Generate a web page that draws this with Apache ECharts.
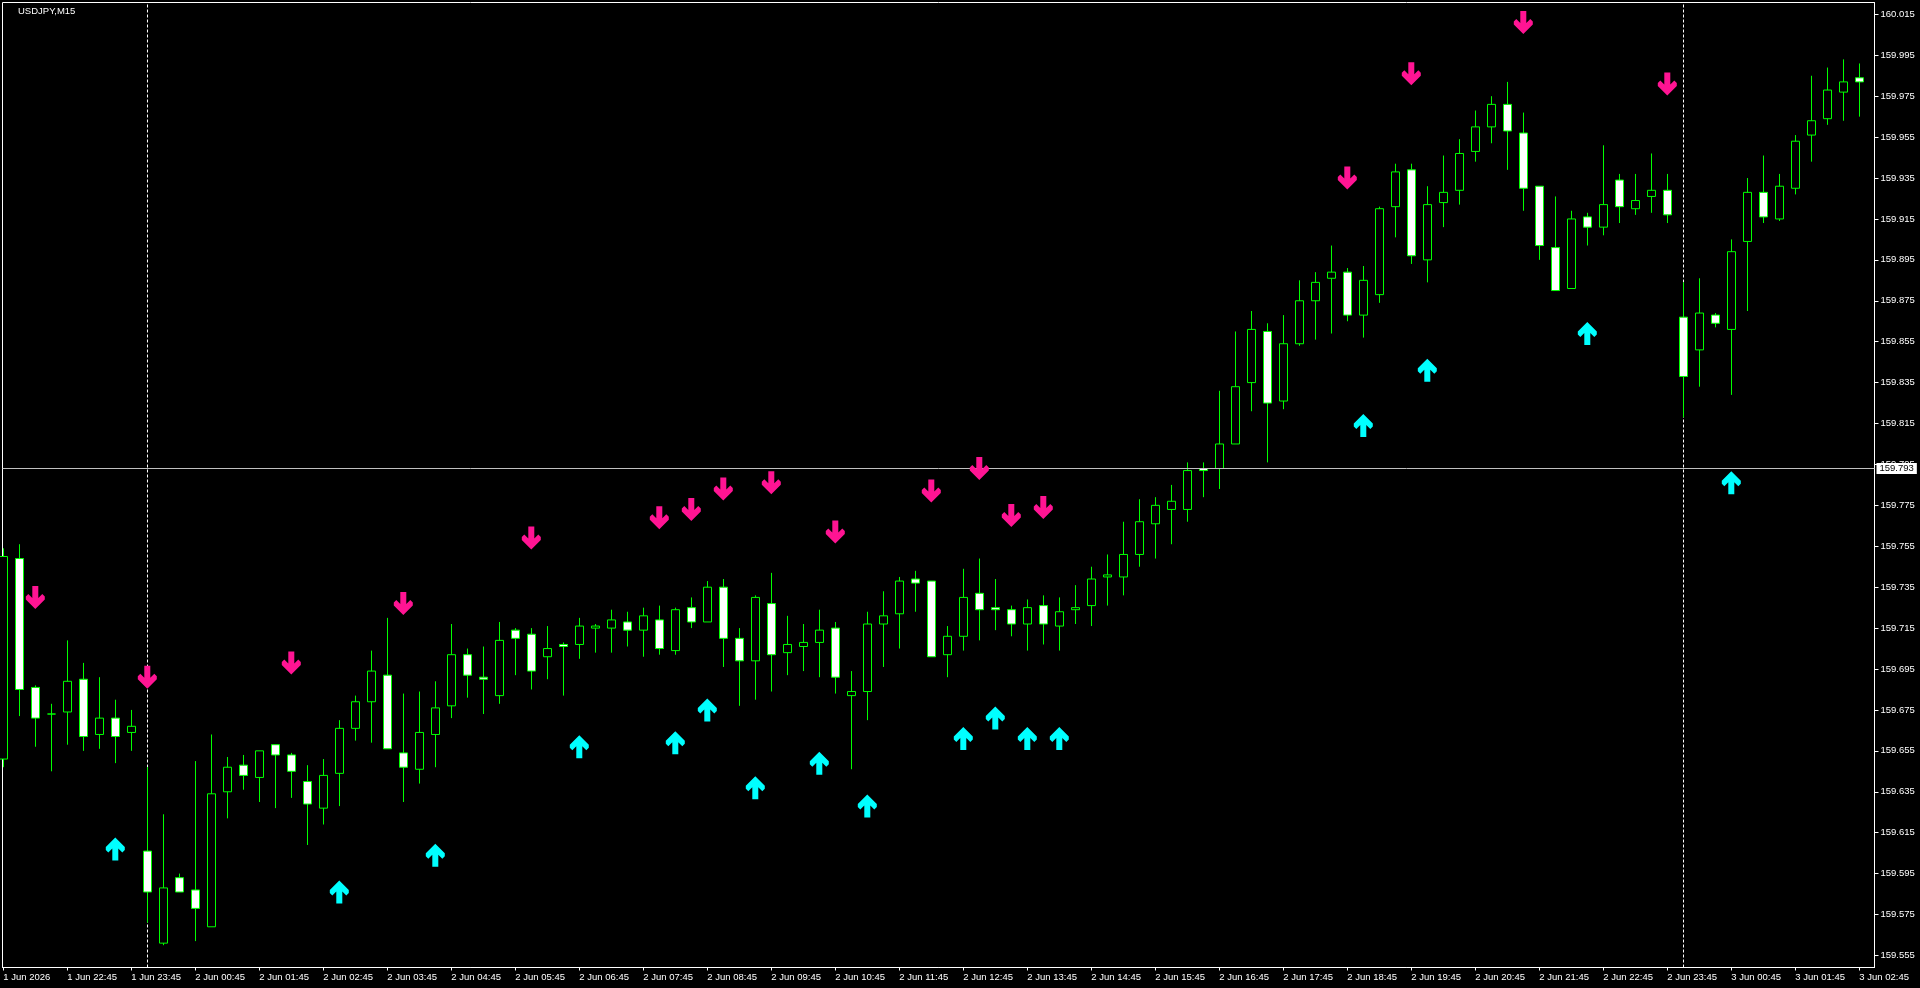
<!DOCTYPE html>
<html>
<head>
<meta charset="utf-8">
<title>USDJPY,M15</title>
<script src="https://cdn.jsdelivr.net/npm/echarts@6.0.0/dist/echarts.min.js"></script>
<style>
  html, body { margin: 0; padding: 0; background: #000; }
  #main { width: 1920px; height: 988px; }
</style>
</head>
<body>
<div id="main"></div>
<script>
// USDJPY M15 bars, index 0 = 1 Jun 21:45
const opens = [
  159.651, 159.749, 159.686, 159.673, 159.674, 159.690, 159.663, 159.671, 159.664, 159.606,
  159.561, 159.593, 159.587, 159.569, 159.635, 159.648, 159.642, 159.658, 159.653, 159.640,
  159.627, 159.644, 159.666, 159.679, 159.692, 159.654, 159.646, 159.663, 159.677, 159.702,
  159.691, 159.682, 159.714, 159.712, 159.701, 159.707, 159.707, 159.715, 159.715, 159.718,
  159.714, 159.719, 159.704, 159.725, 159.718, 159.735, 159.710, 159.699, 159.727, 159.703,
  159.706, 159.708, 159.715, 159.682, 159.684, 159.717, 159.722, 159.739, 159.738, 159.702,
  159.711, 159.732, 159.725, 159.724, 159.717, 159.726, 159.716, 159.724, 159.726, 159.740,
  159.740, 159.751, 159.766, 159.773, 159.773, 159.793, 159.793, 159.805, 159.835, 159.860,
  159.826, 159.854, 159.875, 159.886, 159.889, 159.868, 159.878, 159.921, 159.939, 159.895,
  159.923, 159.929, 159.948, 159.960, 159.971, 159.957, 159.931, 159.901, 159.881, 159.916,
  159.911, 159.934, 159.920, 159.926, 159.929, 159.867, 159.851, 159.868, 159.861, 159.904,
  159.928, 159.915, 159.930, 159.956, 159.964, 159.977, 159.984
]
const closes = [
  159.750, 159.685, 159.671, 159.673, 159.689, 159.662, 159.671, 159.662, 159.667, 159.586,
  159.588, 159.586, 159.578, 159.634, 159.647, 159.643, 159.655, 159.653, 159.645, 159.629,
  159.643, 159.666, 159.679, 159.694, 159.656, 159.647, 159.664, 159.676, 159.702, 159.692,
  159.690, 159.709, 159.710, 159.694, 159.705, 159.706, 159.716, 159.716, 159.719, 159.714,
  159.721, 159.705, 159.724, 159.718, 159.735, 159.710, 159.699, 159.730, 159.702, 159.707,
  159.708, 159.714, 159.691, 159.684, 159.717, 159.721, 159.738, 159.737, 159.701, 159.711,
  159.730, 159.724, 159.724, 159.717, 159.725, 159.717, 159.723, 159.725, 159.739, 159.741,
  159.751, 159.767, 159.775, 159.777, 159.792, 159.792, 159.805, 159.833, 159.861, 159.825,
  159.854, 159.875, 159.884, 159.889, 159.868, 159.885, 159.920, 159.938, 159.897, 159.922,
  159.928, 159.947, 159.960, 159.971, 159.958, 159.930, 159.902, 159.880, 159.915, 159.911,
  159.922, 159.921, 159.924, 159.929, 159.917, 159.838, 159.869, 159.864, 159.899, 159.928,
  159.916, 159.931, 159.953, 159.963, 159.978, 159.982, 159.982
]
const lows = [
  159.647, 159.672, 159.657, 159.645, 159.658, 159.655, 159.656, 159.649, 159.655, 159.571,
  159.560, 159.586, 159.562, 159.569, 159.622, 159.636, 159.630, 159.627, 159.632, 159.609,
  159.619, 159.628, 159.660, 159.659, 159.656, 159.630, 159.639, 159.647, 159.671, 159.681,
  159.673, 159.678, 159.692, 159.685, 159.690, 159.682, 159.700, 159.703, 159.703, 159.706,
  159.701, 159.702, 159.702, 159.715, 159.718, 159.696, 159.677, 159.680, 159.684, 159.692,
  159.694, 159.691, 159.683, 159.646, 159.670, 159.696, 159.705, 159.723, 159.701, 159.691,
  159.704, 159.709, 159.714, 159.711, 159.704, 159.707, 159.704, 159.717, 159.716, 159.726,
  159.731, 159.745, 159.749, 159.756, 159.767, 159.779, 159.783, 159.805, 159.821, 159.796,
  159.822, 159.853, 159.856, 159.859, 159.865, 159.857, 159.874, 159.906, 159.893, 159.884,
  159.911, 159.922, 159.943, 159.952, 159.939, 159.919, 159.895, 159.880, 159.881, 159.902,
  159.907, 159.913, 159.917, 159.918, 159.913, 159.818, 159.833, 159.862, 159.829, 159.870,
  159.913, 159.914, 159.927, 159.943, 159.961, 159.963, 159.965
]
const highs = [
  159.754, 159.756, 159.687, 159.678, 159.709, 159.698, 159.691, 159.680, 159.675, 159.647,
  159.624, 159.595, 159.650, 159.663, 159.652, 159.653, 159.655, 159.658, 159.654, 159.648,
  159.651, 159.670, 159.682, 159.704, 159.720, 159.683, 159.684, 159.689, 159.717, 159.705,
  159.706, 159.718, 159.715, 159.715, 159.716, 159.708, 159.720, 159.717, 159.724, 159.723,
  159.725, 159.726, 159.725, 159.730, 159.738, 159.739, 159.715, 159.731, 159.742, 159.721,
  159.717, 159.724, 159.718, 159.694, 159.723, 159.733, 159.740, 159.743, 159.738, 159.716,
  159.744, 159.749, 159.739, 159.726, 159.729, 159.731, 159.730, 159.736, 159.745, 159.751,
  159.767, 159.778, 159.779, 159.785, 159.796, 159.796, 159.831, 159.860, 159.870, 159.864,
  159.868, 159.885, 159.889, 159.902, 159.891, 159.892, 159.921, 159.942, 159.942, 159.931,
  159.946, 159.954, 159.968, 159.975, 159.982, 159.967, 159.931, 159.926, 159.919, 159.918,
  159.951, 159.937, 159.937, 159.947, 159.937, 159.884, 159.886, 159.869, 159.905, 159.935,
  159.946, 159.937, 159.956, 159.985, 159.989, 159.993, 159.991
]

// arrow signals: bar index + price where the arrow sits
const sellIdx = [2, 9, 18, 25, 33, 41, 43, 45, 48, 52, 58, 61, 63, 65, 84, 88, 95, 104]
const sellPrice = [159.730, 159.691, 159.698, 159.727, 159.759, 159.769, 159.773, 159.783, 159.786,
  159.762, 159.782, 159.793, 159.770, 159.774, 159.935, 159.986, 160.011, 159.981]
const buyIdx = [7, 21, 27, 36, 42, 44, 47, 51, 54, 60, 62, 64, 66, 85, 89, 99, 108]
const buyPrice = [159.607, 159.586, 159.604, 159.657, 159.659, 159.675, 159.637, 159.649, 159.628,
  159.661, 159.671, 159.661, 159.661, 159.814, 159.841, 159.859, 159.786]

const daySepIdx = [9, 105]
const bidPrice = 159.793

const timeLabels = [
  '1 Jun 2026', '1 Jun 22:45', '1 Jun 23:45',
  '2 Jun 00:45', '2 Jun 01:45', '2 Jun 02:45', '2 Jun 03:45', '2 Jun 04:45', '2 Jun 05:45',
  '2 Jun 06:45', '2 Jun 07:45', '2 Jun 08:45', '2 Jun 09:45', '2 Jun 10:45', '2 Jun 11:45',
  '2 Jun 12:45', '2 Jun 13:45', '2 Jun 14:45', '2 Jun 15:45', '2 Jun 16:45', '2 Jun 17:45',
  '2 Jun 18:45', '2 Jun 19:45', '2 Jun 20:45', '2 Jun 21:45', '2 Jun 22:45', '2 Jun 23:45',
  '3 Jun 00:45', '3 Jun 01:45', '3 Jun 02:45'
]
const yTicks = [
  159.555, 159.575, 159.595, 159.615, 159.635, 159.655, 159.675, 159.695,
  159.715, 159.735, 159.755, 159.775, 159.795, 159.815, 159.835, 159.855,
  159.875, 159.895, 159.915, 159.935, 159.955, 159.975, 159.995, 160.015
]

const FONT = 'Liberation Sans'
// one label every 4 bars (hourly)
const timeTickIdx = timeLabels.map(function (t, k) { return k * 4 })

const downArrow = 'path://M6.5 0H12.5V12L16.5 8L19 10.5V13.5L9.5 23L0 13.5V10.5L2.5 8L6.5 12Z'
const upArrow = 'path://M6.5 23H12.5V11L16.5 15L19 12.5V9.5L9.5 0L0 9.5V12.5L2.5 15L6.5 11Z'

let candles = opens.map(function (o, i) {
  return [i, o, closes[i], lows[i], highs[i]]
})

let chart = echarts.init(document.getElementById('main'))
chart.setOption({
  animation: false,
  backgroundColor: '#000',
  title: {
    text: 'USDJPY,M15',
    left: 18,
    top: 6,
    padding: 0,
    textStyle: { color: '#fff', fontSize: 9.5, fontWeight: 'normal', fontFamily: FONT }
  },
  grid: {
    left: 2.5,
    top: 2.5,
    width: 1872,
    height: 965,
    show: true,
    borderColor: '#fff',
    borderWidth: 1,
    backgroundColor: 'transparent'
  },
  xAxis: {
    type: 'value',
    min: -0.05,
    max: 116.95,
    splitLine: { show: false },
    axisLine: { show: true, onZero: false, lineStyle: { color: '#fff', width: 1 } },
    axisTick: { show: true, length: 3, customValues: timeTickIdx, lineStyle: { color: '#fff' } },
    axisLabel: {
      customValues: timeTickIdx,
      align: 'left',
      margin: 5,
      color: '#fff',
      fontSize: 9.5,
      fontFamily: FONT,
      formatter: function (v) { return timeLabels[Math.round(v / 4)] }
    }
  },
  yAxis: {
    type: 'value',
    position: 'right',
    min: 159.5491,
    max: 160.0208,
    scale: true,
    splitLine: { show: false },
    axisLine: { show: true, onZero: false, lineStyle: { color: '#fff', width: 1 } },
    axisTick: { show: true, length: 4, customValues: yTicks, lineStyle: { color: '#fff' } },
    axisLabel: {
      customValues: yTicks,
      margin: 6,
      color: '#fff',
      fontSize: 9.5,
      fontFamily: FONT,
      formatter: function (v) { return v.toFixed(3) }
    }
  },
  series: [
    {
      // day separators
      type: 'scatter',
      data: [],
      silent: true,
      markLine: {
        z: 1,
        silent: true,
        symbol: ['none', 'none'],
        label: { show: false },
        lineStyle: { color: '#fff', width: 1, type: [3, 2] },
        data: daySepIdx.map(function (i) { return { xAxis: i } })
      }
    },
    {
      type: 'candlestick',
      z: 2,
      silent: true,
      clip: true,
      barWidth: 9,
      encode: { x: 0, y: [1, 2, 3, 4] },
      data: candles,
      itemStyle: {
        color: '#000',
        color0: '#fff',
        borderColor: '#00ff00',
        borderColor0: '#00ff00',
        borderColorDoji: '#00ff00',
        borderWidth: 1
      }
    },
    {
      // bid line
      type: 'scatter',
      data: [],
      silent: true,
      markLine: {
        z: 3,
        silent: true,
        precision: 3, // default 2 would round the bid to 159.79
        symbol: ['none', 'none'],
        lineStyle: { color: '#c0c0c0', width: 1, type: 'solid' },
        label: {
          show: true,
          position: 'end',
          distance: 2,
          formatter: bidPrice.toFixed(3),
          color: '#000',
          backgroundColor: '#fff',
          padding: [1, 3, 0, 3],
          fontSize: 9.5,
          fontFamily: FONT
        },
        data: [{ yAxis: bidPrice }]
      }
    },
    {
      name: 'sell',
      type: 'scatter',
      z: 5,
      silent: true,
      symbol: downArrow,
      symbolSize: [19, 23],
      itemStyle: { color: '#ff1493', opacity: 1 },
      data: sellIdx.map(function (i, k) { return [i, sellPrice[k]] })
    },
    {
      name: 'buy',
      type: 'scatter',
      z: 5,
      silent: true,
      symbol: upArrow,
      symbolSize: [19, 23],
      itemStyle: { color: '#00ffff', opacity: 1 },
      data: buyIdx.map(function (i, k) { return [i, buyPrice[k]] })
    }
  ]
})
</script>
</body>
</html>
